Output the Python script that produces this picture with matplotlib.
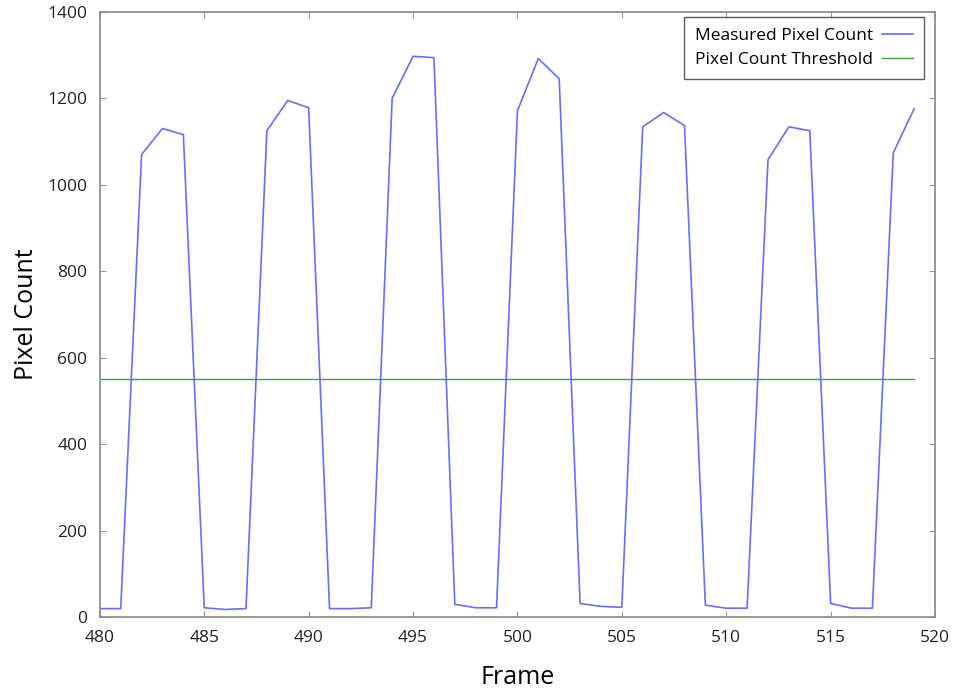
import matplotlib
matplotlib.use('Agg')
import matplotlib.pyplot as plt

plt.rcParams['font.family'] = ['Open Sans', 'DejaVu Sans']

# Frames et nombre de pixels mesures
frames = list(range(480, 520))
pixel_count = [20, 20, 1070, 1130, 1116, 22, 18, 20, 1125, 1195,
               1178, 20, 20, 22, 1200, 1297, 1294, 30, 22, 22,
               1171, 1292, 1245, 32, 25, 23, 1134, 1167, 1137, 28,
               21, 21, 1058, 1134, 1125, 32, 21, 21, 1074, 1176]
threshold = [550] * len(frames)

fig = plt.figure(figsize=(9.6, 6.92), dpi=100)
ax = fig.add_axes([0.104, 0.108, 0.87, 0.875])

ax.plot(frames, pixel_count, color='#6b6bff', linewidth=1.2, label='Measured Pixel Count')
ax.plot(frames, threshold, color='#4a9a4a', linewidth=1.0, label='Pixel Count Threshold')

ax.set_xlim(480, 520)
ax.set_ylim(0, 1400)
ax.set_xticks(range(480, 521, 5))
ax.set_yticks(range(0, 1401, 200))
ax.tick_params(direction='in', top=True, right=True, length=4, color='#999999',
               labelsize=12.5, labelcolor='#222222', pad=9)
for s in ax.spines.values():
    s.set_color('#888888')
    s.set_linewidth(1.2)

ax.set_xlabel('Frame', fontsize=18, labelpad=14)
ax.set_ylabel('Pixel Count', fontsize=18, labelpad=6)

leg = ax.legend(loc='upper right', markerfirst=False, fancybox=False, fontsize=12.5,
                borderpad=0.65, handlelength=1.8, handletextpad=0.5, labelspacing=0.45,
                borderaxespad=0, bbox_to_anchor=(0.987, 0.992))
leg.get_frame().set_edgecolor('#333333')
leg.get_frame().set_linewidth(1.0)

plt.savefig('out.png', dpi=100)
